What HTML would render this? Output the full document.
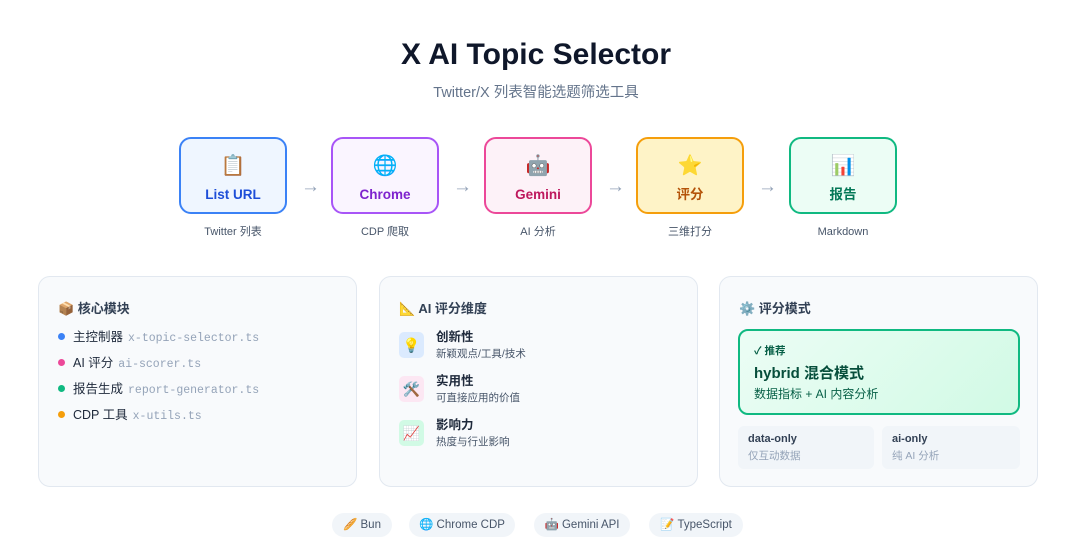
<!DOCTYPE html>
<html><head><meta charset="utf-8"><style>
*{margin:0;padding:0;box-sizing:border-box}
body{width:1072px;height:556px;background:#fff;font-family:"Liberation Sans","Noto Sans CJK SC",sans-serif;position:relative;overflow:hidden;color:#1e293b}
.a{position:absolute}
.t{left:0;width:1072px;text-align:center}
.box{position:absolute;top:137px;width:108px;height:77px;border:2px solid;border-radius:12px;text-align:center}
.box .i{font-size:20px;margin-top:14px;height:26px;line-height:26px}
.box .n{font-size:13.5px;font-weight:bold;margin-top:7px;line-height:18px}
.lb{position:absolute;top:224px;width:108px;text-align:center;font-size:11px;color:#475569;line-height:16px}
.ar{position:absolute;top:176px;font-size:19px;color:#94a3b8}
.p{position:absolute;top:276px;width:319px;height:211px;border:1px solid #e2e8f0;border-radius:12px;background:#f8fafc}
.h{position:absolute;left:19px;top:21px;font-size:13px;font-weight:bold;color:#334155}
.li{position:absolute;left:19px;font-size:12.5px;color:#1e293b;line-height:16px}
.li b{display:inline-block;width:7px;height:7px;border-radius:50%;margin-right:8px;vertical-align:1px}
.li code{font-family:"Liberation Mono",monospace;font-size:11.5px;color:#94a3b8;margin-left:5px}
.ic{position:absolute;left:19px;width:25px;height:26px;border-radius:5px;font-size:14px;text-align:center;line-height:26px}
.dt{position:absolute;left:56px;font-size:12.5px;font-weight:bold;line-height:16px}
.ds{position:absolute;left:56px;font-size:10.5px;color:#475569;line-height:14px}
.pill{position:absolute;top:513px;height:24px;border-radius:12px;background:#f1f5f9;font-size:11.5px;color:#475569;line-height:24px;text-align:center}
</style></head><body>
<div class="a t" style="top:38px;font-size:30px;font-weight:bold;color:#0f172a">X AI Topic Selector</div>
<div class="a t" style="top:81px;font-size:14.5px;color:#64748b">Twitter/X 列表智能选题筛选工具</div>

<div class="box" style="left:179px;border-color:#3b82f6;background:#eff6ff"><div class="i">📋</div><div class="n" style="color:#1d4ed8">List URL</div></div>
<div class="box" style="left:331px;border-color:#a855f7;background:#faf5ff"><div class="i">🌐</div><div class="n" style="color:#7e22ce">Chrome</div></div>
<div class="box" style="left:484px;border-color:#ec4899;background:#fdf2f8"><div class="i">🤖</div><div class="n" style="color:#be185d">Gemini</div></div>
<div class="box" style="left:636px;border-color:#f59e0b;background:#fef3c7"><div class="i">⭐</div><div class="n" style="color:#b45309">评分</div></div>
<div class="box" style="left:789px;border-color:#10b981;background:#ecfdf5"><div class="i">📊</div><div class="n" style="color:#047857">报告</div></div>
<div class="ar" style="left:301px">→</div><div class="ar" style="left:453px">→</div><div class="ar" style="left:606px">→</div><div class="ar" style="left:758px">→</div>
<div class="lb" style="left:179px">Twitter 列表</div>
<div class="lb" style="left:331px">CDP 爬取</div>
<div class="lb" style="left:484px">AI 分析</div>
<div class="lb" style="left:636px">三维打分</div>
<div class="lb" style="left:789px">Markdown</div>

<div class="p" style="left:38px">
<div class="h">📦 核心模块</div>
<div class="li" style="top:52px"><b style="background:#3b82f6"></b>主控制器<code>x-topic-selector.ts</code></div>
<div class="li" style="top:78px"><b style="background:#ec4899"></b>AI 评分<code>ai-scorer.ts</code></div>
<div class="li" style="top:104px"><b style="background:#10b981"></b>报告生成<code>report-generator.ts</code></div>
<div class="li" style="top:130px"><b style="background:#f59e0b"></b>CDP 工具<code>x-utils.ts</code></div>
</div>
<div class="p" style="left:379px">
<div class="h">📐 AI 评分维度</div>
<div class="ic" style="top:55px;background:#dbeafe">💡</div><div class="dt" style="top:52px">创新性</div><div class="ds" style="top:70px">新颖观点/工具/技术</div>
<div class="ic" style="top:99px;background:#fce7f3">🛠️</div><div class="dt" style="top:96px">实用性</div><div class="ds" style="top:114px">可直接应用的价值</div>
<div class="ic" style="top:143px;background:#d1fae5">📈</div><div class="dt" style="top:140px">影响力</div><div class="ds" style="top:158px">热度与行业影响</div>
</div>
<div class="p" style="left:719px">
<div class="h">⚙️ 评分模式</div>
<div class="a" style="left:18px;top:52px;width:282px;height:86px;border:2px solid #10b981;border-radius:10px;background:linear-gradient(135deg,#ecfdf5,#d1fae5)">
<div class="a" style="left:14px;top:12px;font-size:10.5px;font-weight:bold;color:#065f46">✓ 推荐</div>
<div class="a" style="left:14px;top:31px;font-size:15px;font-weight:bold;color:#064e3b">hybrid 混合模式</div>
<div class="a" style="left:14px;top:54px;font-size:12px;color:#065f46">数据指标 + AI 内容分析</div>
</div>
<div class="a" style="left:18px;top:149px;width:136px;height:43px;border-radius:6px;background:#f1f5f9">
<div class="a" style="left:10px;top:7px;font-size:11px;font-weight:bold;color:#334155">data-only</div>
<div class="a" style="left:10px;top:22px;font-size:10.5px;color:#94a3b8">仅互动数据</div></div>
<div class="a" style="left:162px;top:149px;width:138px;height:43px;border-radius:6px;background:#f1f5f9">
<div class="a" style="left:10px;top:7px;font-size:11px;font-weight:bold;color:#334155">ai-only</div>
<div class="a" style="left:10px;top:22px;font-size:10.5px;color:#94a3b8">纯 AI 分析</div></div>
</div>

<div class="pill" style="left:332px;width:60px">🥖 Bun</div>
<div class="pill" style="left:409px;width:106px">🌐 Chrome CDP</div>
<div class="pill" style="left:534px;width:96px">🤖 Gemini API</div>
<div class="pill" style="left:649px;width:94px">📝 TypeScript</div>
</body></html>
